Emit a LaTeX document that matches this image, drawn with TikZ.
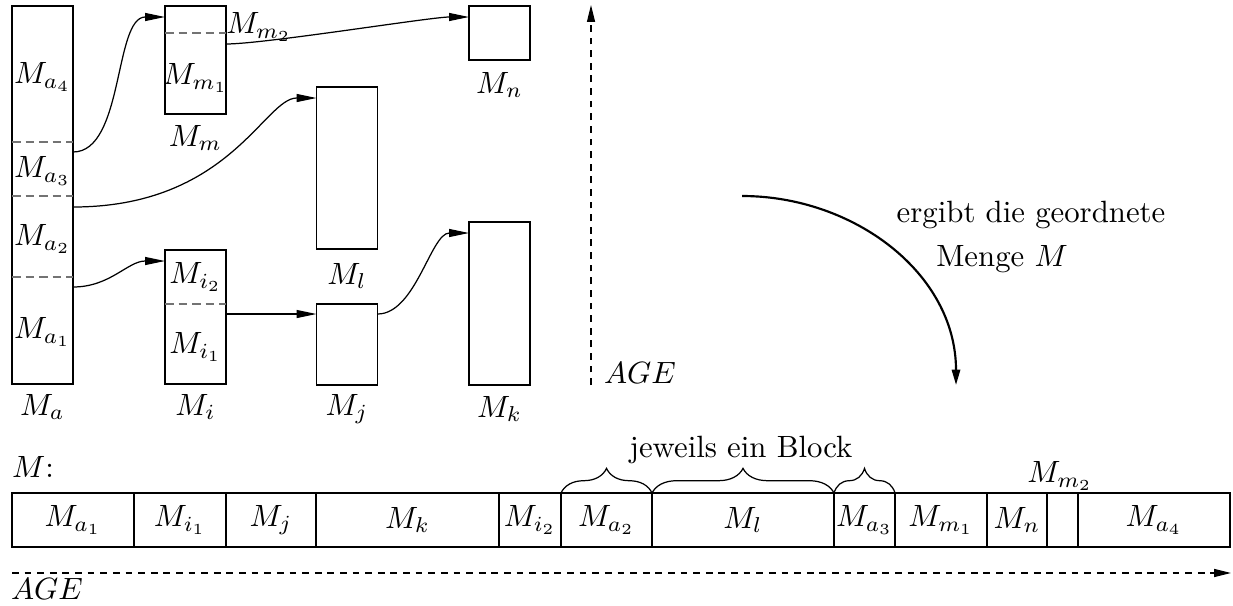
\documentclass[tikz,border=0pt]{standalone}
\usetikzlibrary{positioning,calc,arrows.meta,decorations.pathreplacing}
\newcommand{\unitpx}{0.325pt}
\tikzset{
  kasten/.style={draw, inner sep=0pt, outer sep=0pt, minimum width=61*\unitpx},
  zelle/.style={draw, inner sep=0pt, outer sep=0pt, minimum height=54*\unitpx},
  teil/.style={black!55, dash pattern=on 2.8pt off 1.6pt},
  pfeil/.style={-{Triangle[length=6.5pt,width=2.6pt]}},
  zeit/.style={dash pattern=on 2.2pt off 1.9pt, -{Triangle[length=5.5pt,width=2.6pt]}},
  klammer/.style={decorate, decoration={brace, amplitude=8pt}},
}
\begin{document}
\begin{tikzpicture}[x=0.325pt,y=-0.325pt]
  \useasboundingbox (0,0) rectangle (1233,605);
  \node[kasten, minimum height=378*\unitpx] (Ma) at (42.5,195) {};
  \node[kasten, minimum height=108*\unitpx] (Mm) at (195.5,60) {};
  \node[kasten, minimum height=134*\unitpx] (Mi) at (195.5,317) {};
  \node[kasten, minimum height=162*\unitpx] (Ml) at (347,168) {};
  \node[kasten, minimum height=81*\unitpx]  (Mj) at (347,344.5) {};
  \node[kasten, minimum height=54*\unitpx]  (Mn) at (499.5,33) {};
  \node[kasten, minimum height=163*\unitpx] (Mk) at (499.5,303.5) {};
  \draw[teil] (Ma.west |- 0,142) -- (Ma.east |- 0,142);
  \draw[teil] (Ma.west |- 0,196) -- (Ma.east |- 0,196);
  \draw[teil] (Ma.west |- 0,277) -- (Ma.east |- 0,277);
  \draw[teil] (Mm.west |- 0,33) -- (Mm.east |- 0,33);
  \draw[teil] (Mi.west |- 0,304) -- (Mi.east |- 0,304);
  \node (la4) at (42.5,77) {$M_{a_4}$};
  \node (la3) at (42.5,171) {$M_{a_3}$};
  \node (la2) at (42.5,239) {$M_{a_2}$};
  \node (la1) at (42.5,332) {$M_{a_1}$};
  \node (lMa) at (42.5,407) {$M_a$};
  \node (lm2) at (259,27) {$M_{m_2}$};
  \node (lm1) at (195.5,78) {$M_{m_1}$};
  \node (lMm) at (195.5,138) {$M_m$};
  \node (li2) at (195.5,277) {$M_{i_2}$};
  \node (li1) at (195.5,347) {$M_{i_1}$};
  \node (lMi) at (195.5,407) {$M_i$};
  \node (lMl) at (347,276) {$M_l$};
  \node (lMj) at (347,409) {$M_j$};
  \node (lMn) at (499.5,85) {$M_n$};
  \node (lMk) at (499.5,409) {$M_k$};
  \draw[pfeil] ($(Ma.north east)+(0,146)$) to[out=0,in=180,looseness=0.8] ($(Mm.north west)+(0,11)$);
  \draw[pfeil] ($(Ma.north east)+(0,201)$) to[out=0,in=180,out looseness=1.5,in looseness=0.5] ($(Ml.north west)+(0,11)$);
  \draw[pfeil] ($(Ma.north east)+(0,281)$) to[out=0,in=180] ($(Mi.north west)+(0,11)$);
  \draw[pfeil] ($(Mi.north east)+(0,64)$) -- ($(Mj.north west)+(0,10)$);
  \draw[pfeil] ($(Mj.north east)+(0,10)$) to[out=0,in=180,looseness=0.8] ($(Mk.north west)+(0,11)$);
  \draw[pfeil] ($(Mm.north east)+(0,38)$) to[out=0,in=180,looseness=0.4] ($(Mn.north west)+(0,11)$);
  \coordinate (t0) at (591,385);
  \coordinate (t1) at (591,5);
  \draw[zeit] (t0) -- (t1);
  \node (lt) at (640,373) {$AGE$};
  \coordinate (g0) at (742,196);
  \coordinate (g1) at (956,385);
  \draw[line width=0.7pt, -{Triangle[length=5pt,width=2.7pt]}] (g0) to[out=0,in=90] (g1);
  \node (lg1) at (1031,215) {ergibt die geordnete};
  \node (lg2) at (1002,259) {Menge $M$};
  \node (lM) at (33,467) {$M$:};
  \node[zelle, minimum width=122*\unitpx, anchor=north west] (sa1) at (12,493) {$M_{a_1}$};
  \node[zelle, minimum width=92*\unitpx, right=0pt of sa1] (si1) {$M_{i_1}$};
  \node[zelle, minimum width=90*\unitpx, right=0pt of si1] (sj) {$M_j$};
  \node[zelle, minimum width=183*\unitpx, right=0pt of sj] (sk) {$M_k$};
  \node[zelle, minimum width=62*\unitpx, right=0pt of sk] (si2) {$M_{i_2}$};
  \node[zelle, minimum width=91*\unitpx, right=0pt of si2] (sa2) {$M_{a_2}$};
  \node[zelle, minimum width=182*\unitpx, right=0pt of sa2] (sl) {$M_l$};
  \node[zelle, minimum width=61*\unitpx, right=0pt of sl] (sa3) {$M_{a_3}$};
  \node[zelle, minimum width=92*\unitpx, right=0pt of sa3] (sm1) {$M_{m_1}$};
  \node[zelle, minimum width=60*\unitpx, right=0pt of sm1] (sn) {$M_n$};
  \node[zelle, minimum width=31*\unitpx, right=0pt of sn] (sm2) {};
  \node[zelle, minimum width=152*\unitpx, right=0pt of sm2] (sa4) {$M_{a_4}$};
  \node (lsm2) at (1060,476) {$M_{m_2}$};
  \draw[klammer] (sa2.north west) -- (sa2.north east);
  \draw[klammer] (sl.north west) -- (sl.north east);
  \draw[klammer] (sa3.north west) -- (sa3.north east);
  \node (lb) at (741,450) {jeweils ein Block};
  \coordinate (z0) at (12,573);
  \coordinate (z1) at (1231,573);
  \draw[zeit] (z0) -- (z1);
  \node (lz) at (47,589) {$AGE$};
\end{tikzpicture}
\end{document}
